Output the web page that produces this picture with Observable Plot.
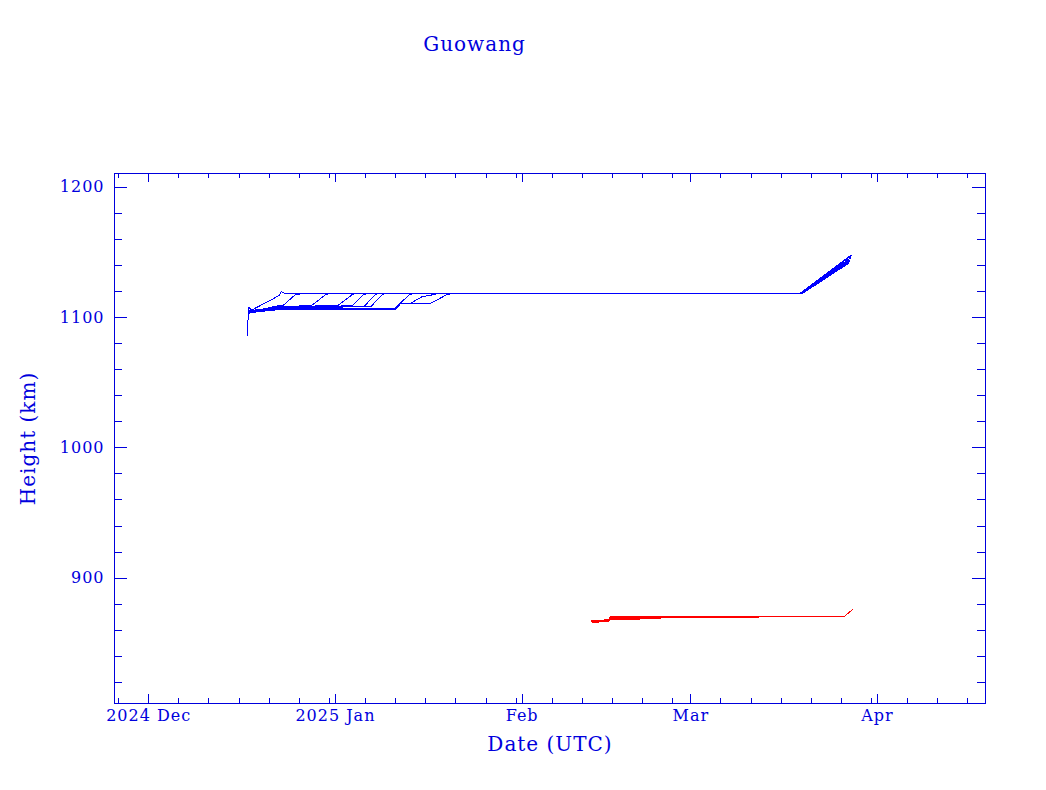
<!DOCTYPE html>
<html><head><meta charset="utf-8">
<script src="https://cdn.jsdelivr.net/npm/d3@7"></script>
<script src="https://cdn.jsdelivr.net/npm/@observablehq/plot@0.6"></script>
<style>
html,body{margin:0;padding:0;background:#fff;}
#chart svg{display:block;}
.chart text{letter-spacing:1px;}
</style></head><body><div id="chart"></div>
<script>
// ---------- data ----------
const title = "Guowang";
const xTitle = "Date (UTC)";
const yTitle = "Height (km)";

const xMajorTicks = ["2024-12-01","2025-01-01","2025-02-01","2025-03-01","2025-04-01"];
const xMajorLabels = ["2024 Dec","2025 Jan","Feb","Mar","Apr"];
const xMinorTicks = ["2024-11-26","2024-12-06","2024-12-11","2024-12-16","2024-12-21","2024-12-26","2024-12-31",
  "2025-01-06","2025-01-11","2025-01-16","2025-01-21","2025-01-26","2025-01-31",
  "2025-02-06","2025-02-11","2025-02-16","2025-02-21","2025-02-26",
  "2025-03-06","2025-03-11","2025-03-16","2025-03-21","2025-03-26","2025-03-31",
  "2025-04-06","2025-04-11","2025-04-16"];
const yMajorTicks = [900, 1000, 1100, 1200];
const yMinorTicks = [820,840,860,880,920,940,960,980,1020,1040,1060,1080,1120,1140,1160,1180];
const xDomain = ["2024-11-25T07:40Z", "2025-04-18T22:20Z"];
const yDomain = [803.8, 1210.5];

// Group 01 (blue): satellite id, time, height (km)
const blueSat = [
  1,1,1,1,1,1,1,
  2,2,2,2,2,2,2,
  3,3,3,3,3,3,3,
  4,4,4,4,4,4,4,
  5,5,5,5,5,5,5,
  6,6,6,6,6,6,6,
  7,7,7,7,7,7,7,
  8,8,8,8,8,8,8,
  9,9,9,9,9,9,9,9,9,9,
  10,10,10,10,10,10,10,10,10,10,10];
const blueTime = [
  "2024-12-17T14:00Z","2024-12-20T07:00Z","2024-12-22T17:00Z","2024-12-23T00:00Z","2024-12-23T10:00Z","2025-03-19T05:00Z","2025-03-27T15:00Z",
  "2024-12-17T13:00Z","2024-12-22T06:00Z","2024-12-23T06:00Z","2024-12-25T07:00Z","2024-12-26T23:00Z","2025-03-19T08:00Z","2025-03-27T13:00Z",
  "2024-12-17T13:00Z","2024-12-22T06:00Z","2024-12-28T00:00Z","2024-12-30T07:00Z","2024-12-31T06:00Z","2025-03-19T06:00Z","2025-03-27T12:00Z",
  "2024-12-17T13:00Z","2024-12-22T06:00Z","2025-01-01T10:00Z","2025-01-03T17:00Z","2025-01-04T12:00Z","2025-03-19T10:00Z","2025-03-27T09:00Z",
  "2024-12-17T13:00Z","2024-12-22T06:00Z","2025-01-03T20:00Z","2025-01-05T15:00Z","2025-01-06T08:00Z","2025-03-19T05:00Z","2025-03-27T15:00Z",
  "2024-12-17T13:00Z","2024-12-22T06:00Z","2025-01-05T18:00Z","2025-01-07T14:00Z","2025-01-08T06:00Z","2025-03-19T14:00Z","2025-03-27T06:00Z",
  "2024-12-17T13:00Z","2024-12-22T06:00Z","2025-01-06T22:00Z","2025-01-08T17:00Z","2025-01-09T10:00Z","2025-03-19T09:00Z","2025-03-27T14:00Z",
  "2024-12-17T13:00Z","2024-12-22T06:00Z","2025-01-10T22:00Z","2025-01-13T03:00Z","2025-01-14T00:00Z","2025-03-19T16:00Z","2025-03-27T04:00Z",
  "2024-12-17T13:00Z","2024-12-22T06:00Z","2025-01-10T22:00Z","2025-01-11T18:00Z","2025-01-13T10:00Z","2025-01-15T08:00Z","2025-01-17T00:00Z","2025-01-18T08:00Z","2025-03-19T12:00Z","2025-03-27T08:00Z",
  "2024-12-17T10:00Z","2024-12-17T13:00Z","2024-12-18T06:00Z","2024-12-22T06:00Z","2025-01-10T22:00Z","2025-01-11T20:00Z","2025-01-16T17:00Z","2025-01-19T12:00Z","2025-01-20T20:00Z","2025-03-19T07:00Z","2025-03-27T15:00Z"];
const blueKm = [
  1104.5,1111.0,1117.0,1119.8,1118.8,1118.8,1148.0,
  1104.0,1108.8,1109.0,1117.3,1118.7,1118.8,1147.0,
  1103.5,1108.5,1109.0,1117.3,1118.7,1118.8,1145.5,
  1104.8,1108.2,1109.2,1117.3,1118.7,1118.8,1144.0,
  1103.2,1107.8,1109.0,1117.3,1118.7,1118.8,1147.5,
  1105.2,1107.5,1108.5,1117.3,1118.7,1118.8,1142.5,
  1103.8,1107.0,1108.5,1117.3,1118.7,1118.8,1146.0,
  1104.2,1106.5,1107.0,1117.0,1118.7,1118.8,1141.5,
  1103.6,1106.0,1106.5,1110.7,1110.7,1115.8,1117.3,1118.7,1118.8,1143.0,
  1086.0,1108.0,1105.0,1105.8,1106.0,1110.7,1110.7,1117.5,1118.7,1118.8,1147.8];

// Group 02 (red)
const redSat = [
  1,1,1,1,1,1,
  2,2,2,2,2,2,2,
  3,3,3,3,3,3,3,
  4,4,4,4,4,4,4,
  5,5,5,5,5,5,5,
  6,6,6,6,6,6,6,
  7,7,7,7,7,7,7,
  8,8,8,8,8,8,8,
  9,9,9,9,9,9,9];
const redTime = [
  "2025-02-12T14:00Z","2025-02-15T06:00Z","2025-02-15T18:00Z","2025-02-20T00:00Z","2025-03-26T14:00Z","2025-03-27T22:00Z",
  "2025-02-12T14:00Z","2025-02-15T06:00Z","2025-02-15T20:00Z","2025-02-20T22:00Z","2025-02-21T12:00Z","2025-03-26T14:00Z","2025-03-27T22:00Z",
  "2025-02-12T15:00Z","2025-02-15T08:00Z","2025-02-16T00:00Z","2025-03-09T12:00Z","2025-03-10T04:00Z","2025-03-26T14:00Z","2025-03-27T22:00Z",
  "2025-02-12T18:00Z","2025-02-15T10:00Z","2025-02-16T00:00Z","2025-03-04T17:00Z","2025-03-05T12:00Z","2025-03-26T14:00Z","2025-03-27T22:00Z",
  "2025-02-12T14:00Z","2025-02-15T04:00Z","2025-02-15T20:00Z","2025-03-02T14:00Z","2025-03-03T12:00Z","2025-03-26T14:00Z","2025-03-27T22:00Z",
  "2025-02-12T16:00Z","2025-02-15T06:00Z","2025-02-15T14:00Z","2025-02-20T00:00Z","2025-02-21T00:00Z","2025-03-26T14:00Z","2025-03-27T22:00Z",
  "2025-02-12T14:00Z","2025-02-15T06:00Z","2025-02-15T12:00Z","2025-02-24T00:00Z","2025-02-25T00:00Z","2025-03-26T14:00Z","2025-03-27T22:00Z",
  "2025-02-12T18:00Z","2025-02-15T06:00Z","2025-02-16T00:00Z","2025-03-12T04:00Z","2025-03-12T12:00Z","2025-03-26T14:00Z","2025-03-27T22:00Z",
  "2025-02-12T14:00Z","2025-02-15T04:00Z","2025-02-15T16:00Z","2025-02-20T12:00Z","2025-02-21T05:00Z","2025-03-26T14:00Z","2025-03-27T22:00Z"];
const redKm = [
  867.5,868.0,870.5,870.9,870.9,876.2,
  866.5,867.0,869.6,869.6,870.9,870.9,876.2,
  866.0,866.8,869.8,869.8,870.9,870.9,876.2,
  866.8,867.5,869.6,869.6,870.9,870.9,876.2,
  867.3,867.8,869.9,869.9,870.9,870.9,876.2,
  866.3,866.8,868.8,868.8,870.9,870.9,876.2,
  867.0,867.5,869.2,869.2,870.9,870.9,876.2,
  866.8,867.2,869.8,869.8,870.9,870.9,876.2,
  867.2,867.6,868.5,868.5,870.9,870.9,876.2];

// ---------- layout / style ----------
const W = 1046, H = 790, ML = 114, MR = 61, MT = 173, MB = 87;
const FW = W - ML - MR, FH = H - MT - MB;
const INK = "#0000dd";
const FONT = "DejaVu Serif";

const blueRows = blueSat.map((s, i) => ({sat: s, t: new Date(blueTime[i]), km: blueKm[i]}));
const redRows = redSat.map((s, i) => ({sat: s, t: new Date(redTime[i]), km: redKm[i]}));
const xMaj = xMajorTicks.map(d => new Date(d + "T00:00Z"));
const xMin = xMinorTicks.map(d => new Date(d + "T00:00Z"));

const tickStyle = {stroke: INK, strokeWidth: 1, shapeRendering: "crispEdges"};

const chart = Plot.plot({
  width: W, height: H,
  marginLeft: ML, marginRight: MR, marginTop: MT, marginBottom: MB,
  className: "chart",
  style: {background: "white", color: INK, fontFamily: FONT},
  x: {type: "utc", domain: xDomain.map(d => new Date(d)), axis: null},
  y: {type: "linear", domain: yDomain, axis: null},
  marks: [
    Plot.frame({stroke: INK, strokeWidth: 1, shapeRendering: "crispEdges"}),
    // x ticks bottom & top
    Plot.tickX(xMaj, {x: d => d, insetTop: FH - 9, ...tickStyle}),
    Plot.tickX(xMin, {x: d => d, insetTop: FH - 5, ...tickStyle}),
    Plot.tickX(xMaj, {x: d => d, insetBottom: FH - 9, ...tickStyle}),
    Plot.tickX(xMin, {x: d => d, insetBottom: FH - 5, ...tickStyle}),
    // y ticks left & right
    Plot.tickY(yMajorTicks, {y: d => d, insetRight: FW - 13, ...tickStyle}),
    Plot.tickY(yMinorTicks, {y: d => d, insetRight: FW - 8, ...tickStyle}),
    Plot.tickY(yMajorTicks, {y: d => d, insetLeft: FW - 13, ...tickStyle}),
    Plot.tickY(yMinorTicks, {y: d => d, insetLeft: FW - 8, ...tickStyle}),
    // data
    Plot.line(blueRows, {x: "t", y: "km", z: "sat", stroke: "#0000ff", strokeWidth: 1, shapeRendering: "crispEdges"}),
    Plot.line(redRows, {x: "t", y: "km", z: "sat", stroke: "#ff0000", strokeWidth: 1, shapeRendering: "crispEdges"}),
    // tick labels
    Plot.text(yMajorTicks, {y: d => d, text: d => String(d), frameAnchor: "left", textAnchor: "end", dx: -10, fill: INK, fontSize: 16, fontFamily: FONT}),
    Plot.text(xMaj, {x: d => d, text: (d, i) => xMajorLabels[i], frameAnchor: "bottom", lineAnchor: "top", textAnchor: "middle", dy: 6, fill: INK, fontSize: 16, fontFamily: FONT}),
    // axis titles
    Plot.text([xTitle], {frameAnchor: "bottom", lineAnchor: "top", textAnchor: "middle", dy: 33, fill: INK, fontSize: 20, fontFamily: FONT}),
    Plot.text([yTitle], {frameAnchor: "left", rotate: -90, textAnchor: "middle", dx: -86, fill: INK, fontSize: 20, fontFamily: FONT}),
    // title
    Plot.text([title], {frameAnchor: "top-left", textAnchor: "middle", dx: 360, dy: -137, fill: INK, fontSize: 20, fontFamily: FONT})
  ]
});
document.getElementById("chart").appendChild(chart);
</script>
</body></html>
